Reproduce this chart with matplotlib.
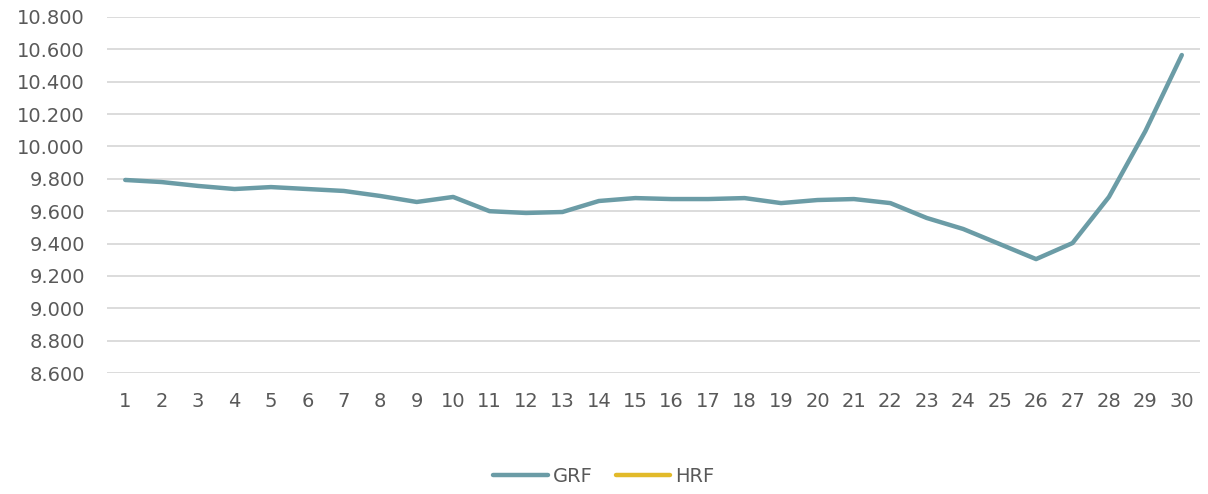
import matplotlib
matplotlib.use("Agg")
import matplotlib.pyplot as plt
import numpy as np

categories = list(range(1, 31))
grf = [9.793, 9.780, 9.756, 9.737, 9.749, 9.737, 9.725, 9.694, 9.657, 9.688,
       9.600, 9.589, 9.595, 9.663, 9.681, 9.675, 9.675, 9.681, 9.650, 9.669,
       9.675, 9.650, 9.558, 9.490, 9.397, 9.304, 9.403, 9.688, 10.095, 10.565]
hrf = [np.nan] * 30
yticks = [8.6, 8.8, 9.0, 9.2, 9.4, 9.6, 9.8, 10.0, 10.2, 10.4, 10.6, 10.8]
ytick_labels = ["8.600", "8.800", "9.000", "9.200", "9.400", "9.600", "9.800",
                "10.000", "10.200", "10.400", "10.600", "10.800"]

plt.rcParams['font.family'] = ['DejaVu Sans']
txt = '#595959'

fig = plt.figure(figsize=(12.08, 4.94), dpi=100)
ax = fig.add_axes([0.0886, 0.2449, 0.9934 - 0.0886, 0.9656 - 0.2449])

ax.plot(categories, grf, color='#6b9ca6', lw=3.2, solid_capstyle='round',
        solid_joinstyle='round', label='GRF', zorder=3)
ax.plot(categories, hrf, color='#e2ba2a', lw=3.2, solid_capstyle='round',
        label='HRF', zorder=3)

ax.set_xlim(0.5, 30.5)
ax.set_ylim(8.6, 10.8)
ax.set_yticks(yticks)
ax.set_yticklabels(ytick_labels)
ax.set_xticks(categories)
ax.set_xticklabels([str(c) for c in categories])
ax.grid(axis='y', color='#d9d9d9', lw=1.3, zorder=0)
ax.set_axisbelow(True)
for s in ax.spines.values():
    s.set_visible(False)
ax.tick_params(axis='both', length=0, labelsize=14, labelcolor=txt)
ax.tick_params(axis='y', pad=16)
ax.tick_params(axis='x', pad=14)

leg = fig.legend(loc='center', bbox_to_anchor=(0.5, 1 - 476 / 494), ncol=2,
                 frameon=False, fontsize=14, handlelength=2.8, columnspacing=1.2,
                 handletextpad=0.25)
for t in leg.get_texts():
    t.set_color(txt)

fig.savefig('out.png', dpi=100)
